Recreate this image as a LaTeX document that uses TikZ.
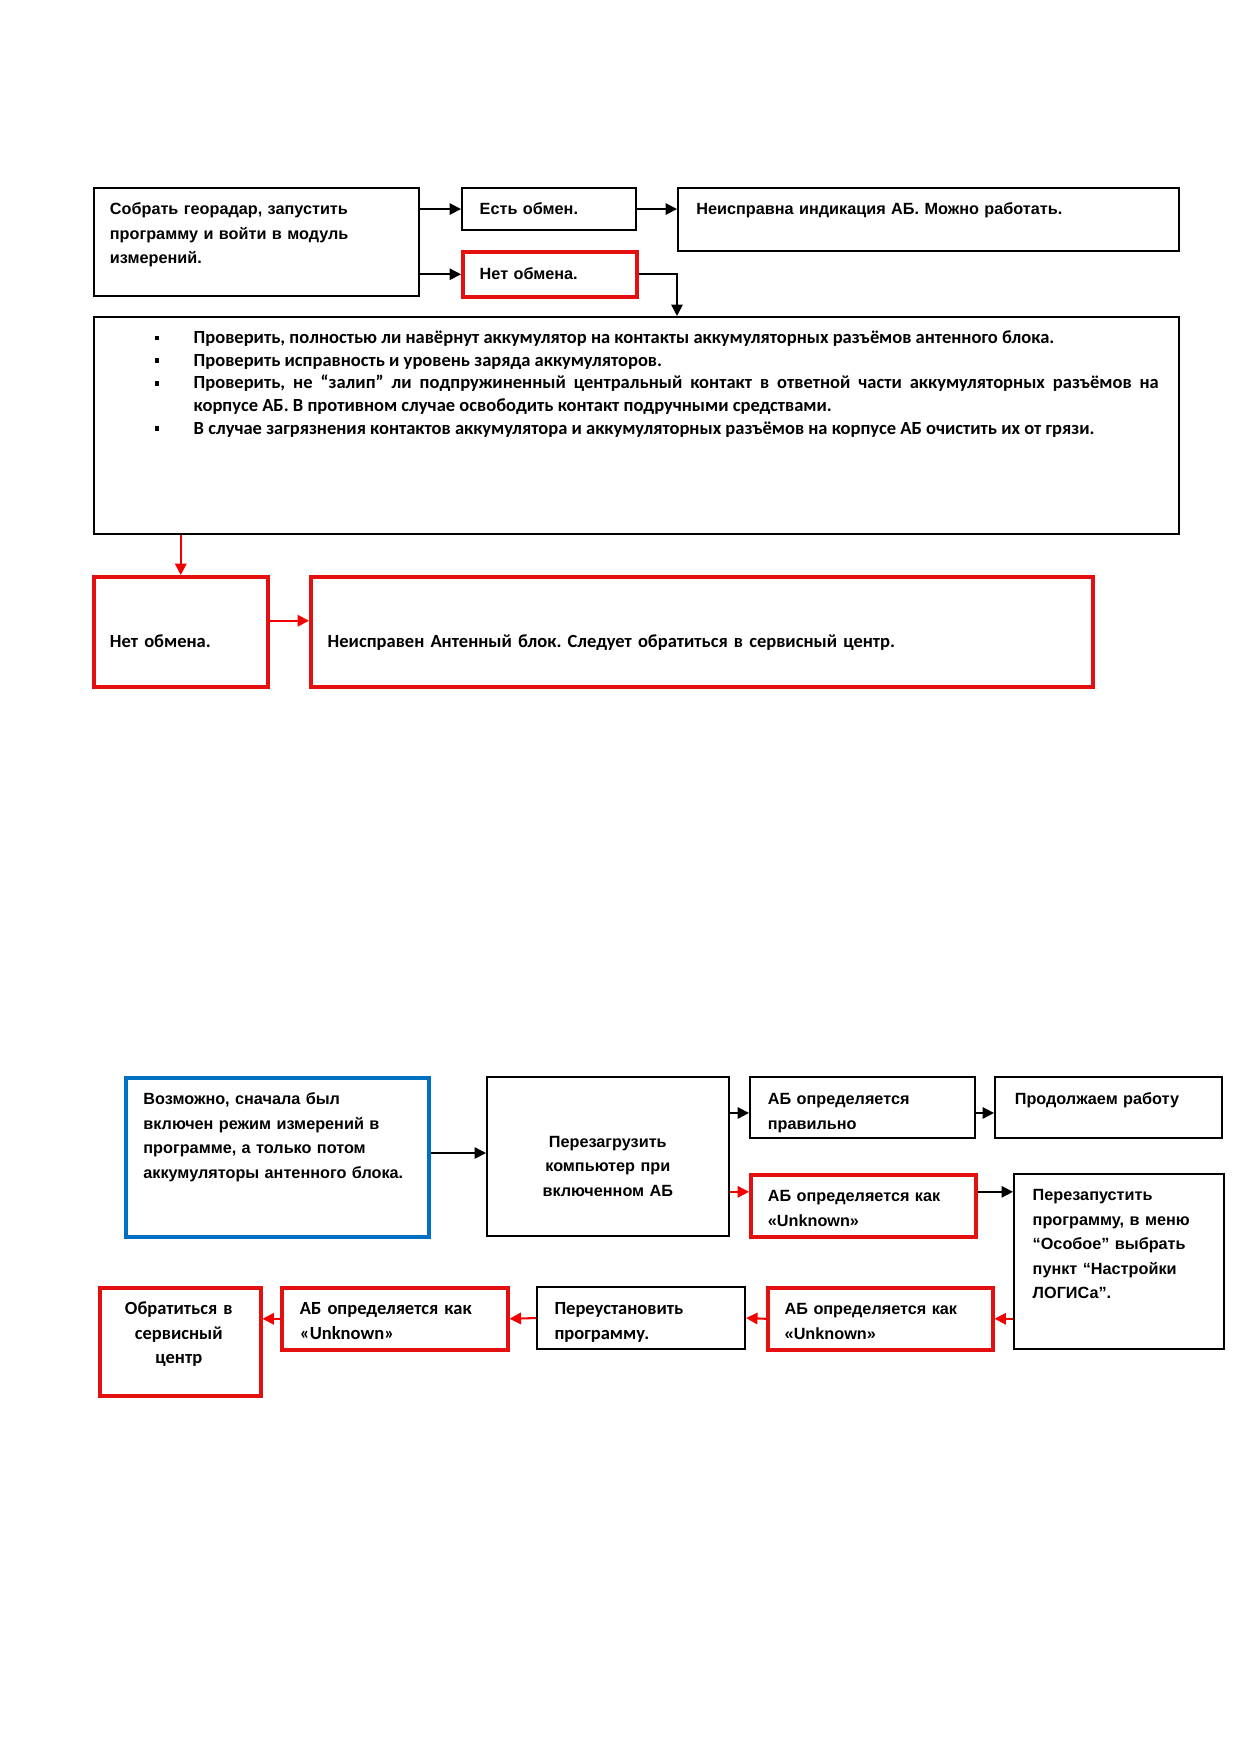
\documentclass[tikz,border=0pt]{standalone}
\usepackage{fontspec}
\setmainfont{Carlito}
\newfontfamily\tah{Liberation Sans}
\usetikzlibrary{arrows.meta}
\newcommand\pxu{0.4805pt}
\definecolor{boxred}{RGB}{228,16,16}
\definecolor{arrred}{RGB}{245,0,0}
\definecolor{boxblue}{RGB}{0,112,192}
\frenchspacing
\tikzset{
  bbox/.style={draw=black, line width=1pt, rectangle, anchor=north west, inner sep=0pt},
  rbox/.style={bbox, draw=boxred, line width=1.7pt},
  blbox/.style={bbox, draw=boxblue, line width=1.7pt},
  wh/.style 2 args={minimum width=#1*\pxu, minimum height=#2*\pxu},
  ftah/.style={font=\tah\bfseries\fontsize{7.8}{11.8}\selectfont},
  fcal/.style={font=\bfseries\fontsize{8.9}{11.8}\selectfont},
  txt/.style={anchor=base west, inner sep=0pt, align=left, text width=#1*\pxu},
  ctxt/.style={anchor=base, inner sep=0pt, align=center, text width=#1*\pxu},
  arr/.style={draw=black, line width=0.8pt, -{Triangle[length=5.5pt,width=5.5pt]}},
  rarr/.style={draw=arrred, line width=1pt, -{Triangle[length=5.5pt,width=5.5pt]}},
}
\begin{document}
\begin{tikzpicture}[x=\pxu, y=-\pxu]
\useasboundingbox (0,0) rectangle (1239,1752);
\fill[white] (0,0) rectangle (1239,1752);

% ---------- top part ----------
\node[bbox, wh={325}{108}] (A) at (93,187) {};
\node[bbox, wh={174}{42}] (B) at (461,187) {};
\node[bbox, wh={501}{63}] (C) at (677,187) {};
\node[rbox, wh={174}{45}] (D) at (461,250) {};
\node[bbox, wh={1085}{217}] (E) at (93,316) {};
\node[rbox, wh={174}{110}] (F) at (92,575) {};
\node[rbox, wh={782}{110}] (G) at (309,575) {};

\node[txt=300, ftah] (At) at (109.5,214.5) {Собрать георадар, запустить\\программу и войти в модуль\\измерений.};
\node[txt=150, ftah] (Bt) at (479.3,214.5) {Есть обмен.};
\node[txt=470, ftah] (Ct) at (696,214.5) {Неисправна индикация АБ. Можно работать.};
\node[txt=150, ftah] (Dt) at (479.3,279) {Нет обмена.};
\node[txt=965, align=justify, font=\bfseries\fontsize{8.9}{10.9}\selectfont] (Et) at (193.3,343.5) {%
\def\bul{\leavevmode\llap{\rule[1.6pt]{2pt}{2.2pt}\hspace{16.7pt}}}%
\bul Проверить, полностью ли навёрнут аккумулятор на контакты аккумуляторных разъёмов антенного блока.\par
\bul Проверить исправность и уровень заряда аккумуляторов.\par
\bul Проверить, не “залип” ли подпружиненный центральный контакт в ответной части аккумуляторных разъёмов на\linebreak корпусе АБ. В противном случае освободить контакт подручными средствами.\par
\bul В случае загрязнения контактов аккумулятора и аккумуляторных разъёмов на корпусе АБ очистить их от грязи.\par};
\node[txt=150, fcal] (Ft) at (109.5,647.5) {Нет обмена.};
\node[txt=740, fcal] (Gt) at (327.3,647.5) {Неисправен Антенный блок. Следует обратиться в сервисный центр.};

\draw[arr] (A.east |- B.west) -- (B.west);
\draw[arr] (A.east |- D.west) -- (D.west);
\draw[arr] (B.east) -- (C.west |- B.east);
\draw[arr] (D.east) -| (C.west |- E.north);
\draw[rarr] (E.south -| F.north) -- (F.north);
\draw[rarr] ([yshift=5.3pt]F.east) -- ([yshift=5.3pt]G.west);

% ---------- bottom part ----------
\node[blbox, wh={303}{159}] (H) at (124,1076) {};
\node[bbox, wh={242}{159}] (I) at (486,1076) {};
\node[bbox, wh={225}{61}] (J) at (749,1076) {};
\node[bbox, wh={227}{61}] (K) at (994,1076) {};
\node[rbox, wh={225}{62}] (L) at (749,1173) {};
\node[bbox, wh={210}{175}] (M) at (1013,1173) {};
\node[rbox, wh={225}{62}] (N) at (766,1286) {};
\node[bbox, wh={208}{62}] (O) at (536,1286) {};
\node[rbox, wh={226}{62}] (P) at (280,1286) {};
\node[rbox, wh={161}{108}] (Q) at (98,1286) {};

\node[txt=280, ftah] (Ht) at (143,1104.5) {Возможно, сначала был\\включен режим измерений в\\программе, а только потом\\аккумуляторы антенного блока.};
\node[ctxt=230, ftah] (It) at (607.8,1147) {Перезагрузить\\компьютер при\\включенном АБ};
\node[txt=205, ftah] (Jt) at (767.5,1104.5) {АБ определяется\\правильно};
\node[txt=205, ftah] (Kt) at (1014.4,1104.5) {Продолжаем работу};
\node[txt=205, ftah] (Lt) at (767.5,1201.5) {АБ определяется как\\«Unknown»};
\node[txt=185, ftah] (Mt) at (1032.3,1200.5) {Перезапустить\\программу, в меню\\“Особое” выбрать\\пункт “Настройки\\ЛОГИСа”.};
\node[txt=205, ftah] (Nt) at (784.3,1314.5) {АБ определяется как\\«Unknown»};
\node[txt=185, fcal] (Ot) at (554.1,1314.5) {Переустановить\\программу.};
\node[txt=205, fcal] (Pt) at (299.4,1314.5) {АБ определяется как\\«Unknown»};
\node[ctxt=150, fcal] (Qt) at (178.8,1314.5) {Обратиться в\\сервисный\\центр};

\coordinate (ij) at ([yshift=-2.6pt]J.west);
\coordinate (il) at ([yshift=6.7pt]L.west);
\coordinate (hi) at ([yshift=1.7pt]I.west);
\draw[arr] (H.east |- hi) -- (hi);
\draw[arr] (I.east |- ij) -- (ij);
\draw[arr] (J.east |- ij) -- (K.west |- ij);
\draw[rarr] (I.east |- il) -- (il);
\draw[arr] (L.east |- il) -- (M.west |- il);
\draw[rarr] (M.west |- N.east) -- (N.east);
\draw[rarr] (N.west) -- (O.east);
\draw[rarr] (O.west) -- (P.east);
\draw[rarr] (P.west) -- (Q.east |- P.west);
\end{tikzpicture}
\end{document}
